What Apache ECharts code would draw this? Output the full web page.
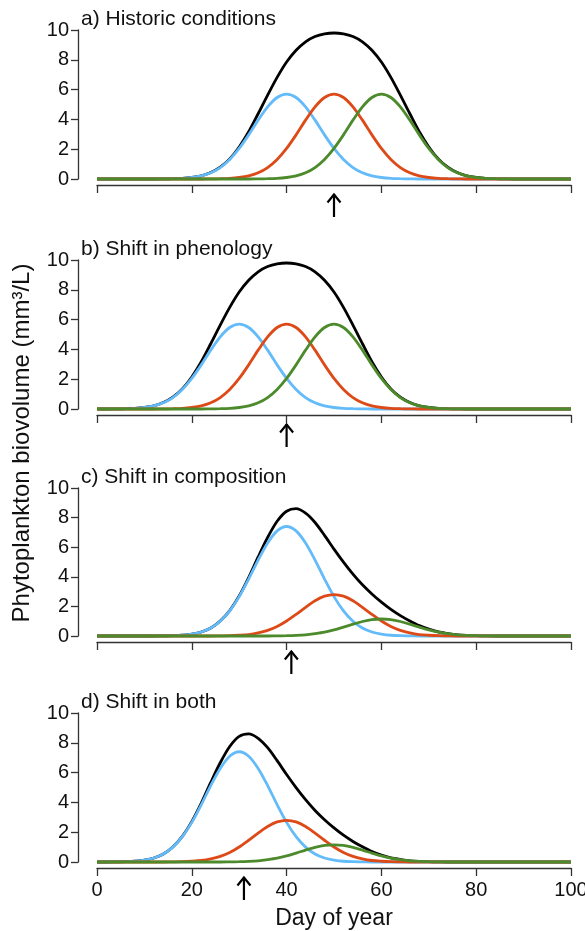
<!DOCTYPE html>
<html>
<head>
<meta charset="utf-8">
<script src="https://cdn.jsdelivr.net/npm/echarts@6/dist/echarts.min.js"></script>
<style>
html,body{margin:0;padding:0;background:#fff;}
#chart{width:585px;height:931px;}
</style>
</head>
<body>
<div id="chart"></div>
<script>
// ---------------- DATA ----------------
const days = [0,2,4,6,8,10,12,14,16,18,
  20,22,24,26,28,30,32,34,36,38,
  40,42,44,46,48,50,52,54,56,58,
  60,62,64,66,68,70,72,74,76,78,
  80,82,84,86,88,90,92,94,96,98,
  100];

const panelTitles = ["a) Historic conditions", "b) Shift in phenology", "c) Shift in composition", "d) Shift in both"];
const arrowDays = [50, 40, 41, 31];
const xTicks = [0, 20, 40, 60, 80, 100];
const yTicks = [0, 2, 4, 6, 8, 10];
const xTitle = "Day of year";
const yTitle = "Phytoplankton biovolume (mm³/L)";

// a) Historic conditions
const blackA = [0,0,0,0,0,0,0,0.01,0.02,0.04,
  0.10,0.21,0.43,0.79,1.35,2.15,3.17,4.38,5.63,6.82,
  7.85,8.64,9.21,9.56,9.74,9.80,9.74,9.56,9.21,8.64,
  7.85,6.82,5.63,4.38,3.17,2.15,1.35,0.79,0.43,0.21,
  0.10,0.04,0.02,0.01,0,0,0,0,0,0,
  0];
const blueA = [0,0,0,0,0,0,0,0.01,0.02,0.04,
  0.10,0.21,0.42,0.77,1.31,2.05,2.96,3.95,4.84,5.47,
  5.70,5.47,4.84,3.95,2.96,2.05,1.31,0.77,0.42,0.21,
  0.10,0.04,0.02,0.01,0,0,0,0,0,0,
  0,0,0,0,0,0,0,0,0,0,
  0];
const redA = [0,0,0,0,0,0,0,0,0,0,
  0,0,0.01,0.02,0.04,0.10,0.21,0.42,0.77,1.31,
  2.05,2.96,3.95,4.84,5.47,5.70,5.47,4.84,3.95,2.96,
  2.05,1.31,0.77,0.42,0.21,0.10,0.04,0.02,0.01,0,
  0,0,0,0,0,0,0,0,0,0,
  0];
const greenA = [0,0,0,0,0,0,0,0,0,0,
  0,0,0,0,0,0,0,0.01,0.02,0.04,
  0.10,0.21,0.42,0.77,1.31,2.05,2.96,3.95,4.84,5.47,
  5.70,5.47,4.84,3.95,2.96,2.05,1.31,0.77,0.42,0.21,
  0.10,0.04,0.02,0.01,0,0,0,0,0,0,
  0];

// b) Shift in phenology
const blackB = [0,0,0.01,0.02,0.04,0.10,0.21,0.43,0.79,1.35,
  2.15,3.17,4.38,5.63,6.82,7.85,8.64,9.21,9.56,9.74,
  9.80,9.74,9.56,9.21,8.64,7.85,6.82,5.63,4.38,3.17,
  2.15,1.35,0.79,0.43,0.21,0.10,0.04,0.02,0.01,0,
  0,0,0,0,0,0,0,0,0,0,
  0];
const blueB = [0,0,0.01,0.02,0.04,0.10,0.21,0.42,0.77,1.31,
  2.05,2.96,3.95,4.84,5.47,5.70,5.47,4.84,3.95,2.96,
  2.05,1.31,0.77,0.42,0.21,0.10,0.04,0.02,0.01,0,
  0,0,0,0,0,0,0,0,0,0,
  0,0,0,0,0,0,0,0,0,0,
  0];
const redB = [0,0,0,0,0,0,0,0.01,0.02,0.04,
  0.10,0.21,0.42,0.77,1.31,2.05,2.96,3.95,4.84,5.47,
  5.70,5.47,4.84,3.95,2.96,2.05,1.31,0.77,0.42,0.21,
  0.10,0.04,0.02,0.01,0,0,0,0,0,0,
  0,0,0,0,0,0,0,0,0,0,
  0];
const greenB = [0,0,0,0,0,0,0,0,0,0,
  0,0,0.01,0.02,0.04,0.10,0.21,0.42,0.77,1.31,
  2.05,2.96,3.95,4.84,5.47,5.70,5.47,4.84,3.95,2.96,
  2.05,1.31,0.77,0.42,0.21,0.10,0.04,0.02,0.01,0,
  0,0,0,0,0,0,0,0,0,0,
  0];

// c) Shift in composition
const blackC = [0,0,0,0,0,0,0,0.01,0.02,0.05,
  0.13,0.27,0.54,1.01,1.72,2.71,3.95,5.34,6.66,7.75,
  8.43,8.60,8.30,7.67,6.80,5.87,4.99,4.18,3.46,2.84,
  2.29,1.80,1.38,1.02,0.70,0.46,0.28,0.17,0.08,0.04,
  0.02,0.01,0,0,0,0,0,0,0,0,
  0];
const blueC = [0,0,0,0,0,0,0,0.01,0.02,0.05,
  0.13,0.27,0.54,1.00,1.70,2.66,3.85,5.13,6.28,7.10,
  7.40,7.10,6.28,5.13,3.85,2.66,1.70,1.00,0.54,0.27,
  0.13,0.05,0.02,0.01,0,0,0,0,0,0,
  0,0,0,0,0,0,0,0,0,0,
  0];
const redC = [0,0,0,0,0,0,0,0,0,0,
  0,0,0,0.01,0.02,0.05,0.10,0.21,0.38,0.64,
  1.01,1.46,1.94,2.38,2.69,2.80,2.69,2.38,1.94,1.46,
  1.01,0.64,0.38,0.21,0.10,0.05,0.02,0.01,0,0,
  0,0,0,0,0,0,0,0,0,0,
  0];
const greenC = [0,0,0,0,0,0,0,0,0,0,
  0,0,0,0,0,0,0,0,0,0.01,
  0.02,0.04,0.08,0.16,0.26,0.41,0.60,0.80,0.98,1.11,
  1.15,1.11,0.98,0.80,0.60,0.41,0.26,0.16,0.08,0.04,
  0.02,0.01,0,0,0,0,0,0,0,0,
  0];

// d) Shift in both
const blackD = [0,0,0.01,0.02,0.05,0.13,0.27,0.54,1.01,1.72,
  2.71,3.95,5.34,6.66,7.75,8.43,8.60,8.30,7.67,6.80,
  5.87,4.99,4.18,3.46,2.84,2.29,1.80,1.38,1.02,0.70,
  0.46,0.28,0.17,0.08,0.04,0.02,0.01,0,0,0,
  0,0,0,0,0,0,0,0,0,0,
  0];
const blueD = [0,0,0.01,0.02,0.05,0.13,0.27,0.54,1.00,1.70,
  2.66,3.85,5.13,6.28,7.10,7.40,7.10,6.28,5.13,3.85,
  2.66,1.70,1.00,0.54,0.27,0.13,0.05,0.02,0.01,0,
  0,0,0,0,0,0,0,0,0,0,
  0,0,0,0,0,0,0,0,0,0,
  0];
const redD = [0,0,0,0,0,0,0,0,0.01,0.02,
  0.05,0.10,0.21,0.38,0.64,1.01,1.46,1.94,2.38,2.69,
  2.80,2.69,2.38,1.94,1.46,1.01,0.64,0.38,0.21,0.10,
  0.05,0.02,0.01,0,0,0,0,0,0,0,
  0,0,0,0,0,0,0,0,0,0,
  0];
const greenD = [0,0,0,0,0,0,0,0,0,0,
  0,0,0,0,0.01,0.02,0.04,0.08,0.16,0.26,
  0.41,0.60,0.80,0.98,1.11,1.15,1.11,0.98,0.80,0.60,
  0.41,0.26,0.16,0.08,0.04,0.02,0.01,0,0,0,
  0,0,0,0,0,0,0,0,0,0,
  0];

const panelSeries = [
  [blackA, blueA, redA, greenA],
  [blackB, blueB, redB, greenB],
  [blackC, blueC, redC, greenC],
  [blackD, blueD, redD, greenD]
];

// ---------------- STYLE / LAYOUT ----------------
const FONT = "'Liberation Sans', Arial, Helvetica, sans-serif";
const lineColors = ['#000000', '#63BBF9', '#DD4A18', '#4C8A2C'];
const gridTops = [30, 260, 488, 713];
const gridHeights = [149, 149, 148, 149];
const axisColor = '#333333';

const chart = echarts.init(document.getElementById('chart'), null, {renderer: 'canvas'});

const grids = [], xAxes = [], yAxes = [], series = [], graphics = [];

for (let i = 0; i < 4; i++) {
  grids.push({left: 97, right: 14, top: gridTops[i], height: gridHeights[i],
              containLabel: false, outerBoundsMode: 'none'});
  xAxes.push({
    type: 'value', gridIndex: i, min: xTicks[0], max: xTicks[xTicks.length - 1],
    interval: xTicks[1] - xTicks[0], offset: 6,
    axisLine: {show: true, onZero: false, lineStyle: {color: axisColor, width: 1.3}},
    axisTick: {show: true, inside: false, length: 8, lineStyle: {color: axisColor, width: 1.3}},
    axisLabel: {show: i === 3, margin: 12, fontSize: 20, color: '#111', fontFamily: FONT, hideOverlap: false},
    splitLine: {show: false}
  });
  yAxes.push({
    type: 'value', gridIndex: i, min: yTicks[0], max: yTicks[yTicks.length - 1],
    interval: yTicks[1] - yTicks[0], offset: 19,
    axisLine: {show: true, onZero: false, lineStyle: {color: axisColor, width: 1.3}},
    axisTick: {show: true, inside: false, length: 7, lineStyle: {color: axisColor, width: 1.3}},
    axisLabel: {show: true, margin: 9, fontSize: 20, color: '#111', fontFamily: FONT},
    splitLine: {show: false}
  });

  panelSeries[i].forEach((vals, k) => {
    series.push({
      type: 'line', xAxisIndex: i, yAxisIndex: i,
      data: days.map((d, j) => [d, vals[j]]),
      showSymbol: false, smooth: 0.3, clip: false,
      lineStyle: {color: lineColors[k], width: 2.8},
      z: 2 + k, silent: true, animation: false
    });
  });

  series.push({
    type: 'custom', xAxisIndex: i, yAxisIndex: i, clip: false, silent: true, animation: false,
    data: [[arrowDays[i]]],
    renderItem: function (params, api) {
      const p = api.coord([api.value(0), 0]);
      const x = p[0], y = p[1];
      return {
        type: 'group',
        children: [
          {type: 'line', shape: {x1: x, y1: y + 15, x2: x, y2: y + 38},
           style: {stroke: '#000', lineWidth: 2.2}},
          {type: 'polyline', shape: {points: [[x - 6.5, y + 23.5], [x, y + 15.5], [x + 6.5, y + 23.5]]},
           style: {stroke: '#000', fill: null, lineWidth: 2.2}}
        ]
      };
    }
  });

  graphics.push({
    type: 'text', x: 81, y: gridTops[i] - 11,
    style: {text: panelTitles[i], font: '21px ' + FONT, fill: '#111', verticalAlign: 'middle', align: 'left'}
  });
}

graphics.push({
  type: 'text', x: 22, y: 443, rotation: Math.PI / 2,
  style: {text: yTitle, font: '24px ' + FONT, fill: '#111', verticalAlign: 'middle', align: 'center'}
});
graphics.push({
  type: 'text', x: 334, y: 919,
  style: {text: xTitle, font: '23px ' + FONT, fill: '#111', verticalAlign: 'middle', align: 'center'}
});

chart.setOption({
  animation: false,
  backgroundColor: '#ffffff',
  grid: grids,
  xAxis: xAxes,
  yAxis: yAxes,
  series: series,
  graphic: graphics
});
</script>
</body>
</html>
